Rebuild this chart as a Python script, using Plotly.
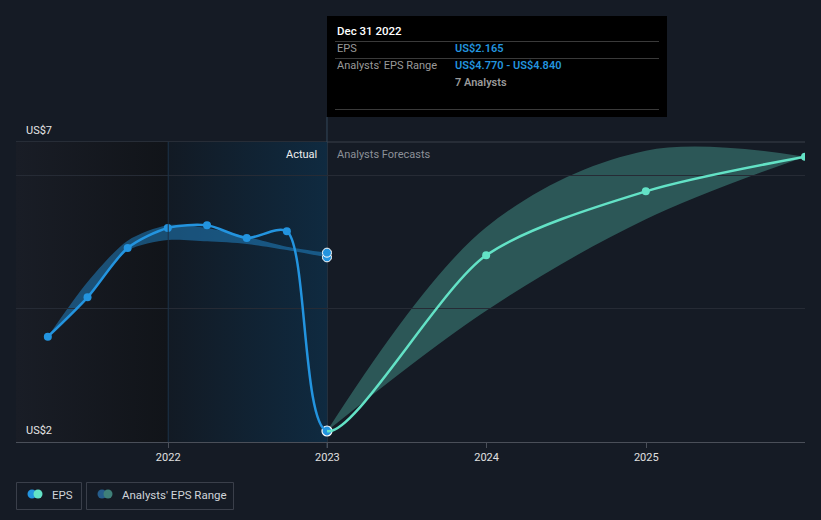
import pandas as pd
import plotly.graph_objects as go

# ---------------- data ----------------
actual_dates = ['2021-03-31', '2021-06-30', '2021-09-30', '2021-12-31',
                '2022-03-31', '2022-06-30', '2022-09-30', '2022-12-31']
actual_eps = [3.58, 4.17, 4.91, 5.21, 5.25, 5.06, 5.16, 2.165]

past_range_low = [3.58, 4.18, 4.87, 5.03, 5.01, 4.97, 4.88, 4.77]
past_range_high = [3.58, 4.40, 5.02, 5.25, 5.21, 5.08, 4.93, 4.84]

forecast_dates = ['2022-12-31', '2023-12-31', '2024-12-31', '2025-12-31']
forecast_eps = [2.165, 4.80, 5.76, 6.28]
forecast_low = [2.165, 3.97, 5.34, 6.28]
forecast_high = [2.165, 5.22, 6.37, 6.28]

hover_date = '2022-12-31'
hover_eps = 2.165
hover_range = [4.770, 4.840]

tick_vals = ['2022-01-01', '2023-01-01', '2024-01-01', '2025-01-01']
tick_text = ['2022', '2023', '2024', '2025']

actual_window = ['2022-01-01', '2022-12-31']
x_range = ['2021-01-17', '2025-12-31']
y_range = [2.0, 6.5]

# ---------------- style ----------------
BG = '#151b25'
BLUE = '#2394df'
TEAL = '#63e2c6'
FONT = 'Roboto'
W, H = 821, 520
L, R, T, B = 16, 805, 142, 442


def px(x):
    return (x - L) / (R - L)


def py(y):
    return (B - y) / (B - T)


# split point (fraction of plot width) between actual and forecast line
t0, t1, ts = (pd.Timestamp(x_range[0]), pd.Timestamp(x_range[1]), pd.Timestamp(hover_date))
split = (ts - t0) / (t1 - t0)

# full EPS series (actual followed by forecast) for one continuous smooth line
all_dates = actual_dates + forecast_dates[1:]
all_eps = actual_eps + forecast_eps[1:]

fig = go.Figure()

# background shading regions
fig.add_trace(go.Scatter(
    x=[x_range[0], actual_window[0], actual_window[0], x_range[0], x_range[0]],
    y=[y_range[0], y_range[0], y_range[1], y_range[1], y_range[0]],
    fill='toself', mode='none', hoverinfo='skip', showlegend=False,
    fillgradient=dict(type='horizontal',
                      colorscale=[[0, '#191d26'], [1, '#111419']])))
fig.add_trace(go.Scatter(
    x=[actual_window[0], actual_window[1], actual_window[1], actual_window[0], actual_window[0]],
    y=[y_range[0], y_range[0], y_range[1], y_range[1], y_range[0]],
    fill='toself', mode='none', hoverinfo='skip', showlegend=False,
    fillgradient=dict(type='horizontal',
                      colorscale=[[0, '#121a24'], [1, '#0f2a40']])))

# past analysts range band
fig.add_trace(go.Scatter(x=actual_dates, y=past_range_low, mode='lines',
                         line=dict(width=0, shape='spline', smoothing=0.8),
                         hoverinfo='skip', showlegend=False))
fig.add_trace(go.Scatter(x=actual_dates, y=past_range_high, mode='lines',
                         line=dict(width=0, shape='spline', smoothing=0.8),
                         fill='tonexty', fillcolor='rgba(35,148,223,0.45)',
                         hoverinfo='skip', showlegend=False))

# forecast range band
fig.add_trace(go.Scatter(x=forecast_dates, y=forecast_low, mode='lines',
                         line=dict(width=0, shape='spline', smoothing=1),
                         hoverinfo='skip', showlegend=False))
fig.add_trace(go.Scatter(x=forecast_dates, y=forecast_high, mode='lines',
                         line=dict(width=0, shape='spline', smoothing=1),
                         fill='tonexty', fillcolor='rgba(94,214,192,0.32)',
                         hoverinfo='skip', showlegend=False))

# EPS line: same smooth curve drawn on two clipped sub-axes (blue actual / teal forecast)
fig.add_trace(go.Scatter(x=all_dates, y=all_eps, mode='lines', xaxis='x2',
                         line=dict(color=BLUE, width=2.5, shape='spline', smoothing=0.8),
                         hoverinfo='skip', showlegend=False))
fig.add_trace(go.Scatter(x=all_dates, y=all_eps, mode='lines', xaxis='x3',
                         line=dict(color=TEAL, width=2.5, shape='spline', smoothing=0.8),
                         hoverinfo='skip', showlegend=False))

# markers
fig.add_trace(go.Scatter(x=actual_dates[:-1], y=actual_eps[:-1], mode='markers',
                         marker=dict(color=BLUE, size=8),
                         hoverinfo='skip', showlegend=False))
fig.add_trace(go.Scatter(x=forecast_dates[1:], y=forecast_eps[1:], mode='markers',
                         marker=dict(color=TEAL, size=8),
                         hoverinfo='skip', showlegend=False))

# highlighted hover markers
fig.add_trace(go.Scatter(x=[hover_date, hover_date], y=hover_range, mode='markers',
                         marker=dict(color=BLUE, size=9, line=dict(color='white', width=1)),
                         hoverinfo='skip', showlegend=False))
fig.add_trace(go.Scatter(x=[hover_date], y=[hover_eps], mode='markers',
                         marker=dict(color=BLUE, size=10, line=dict(color='white', width=1.2)),
                         cliponaxis=False, hoverinfo='skip', showlegend=False))

shapes = []
# top border line
shapes.append(dict(type='line', xref='paper', yref='paper', x0=0, x1=1, y0=1, y1=1,
                   line=dict(color='#3b404a', width=1), layer='below'))
# boundary line at start of actual window
shapes.append(dict(type='line', xref='x', yref='paper', x0=actual_window[0], x1=actual_window[0],
                   y0=0, y1=1, line=dict(color='#1c3248', width=1)))
# hover crosshair
shapes.append(dict(type='line', xref='x', yref='paper', x0=hover_date, x1=hover_date,
                   y0=py(448), y1=py(117), line=dict(color='#34485c', width=1), layer='below'))
# tooltip box
shapes.append(dict(type='rect', xref='paper', yref='paper', x0=px(327), x1=px(667),
                   y0=py(117), y1=py(16), fillcolor='#000000', line=dict(width=0)))
for yy in (41.5, 58.5, 109.5):
    shapes.append(dict(type='line', xref='paper', yref='paper', x0=px(335), x1=px(659),
                       y0=py(yy), y1=py(yy), line=dict(color='#3a3a3a', width=1)))
# legend boxes
for x0, x1 in ((16.5, 81.5), (86.5, 233.5)):
    shapes.append(dict(type='rect', xref='paper', yref='paper', x0=px(x0), x1=px(x1),
                       y0=py(509.5), y1=py(482.5), line=dict(color='#3a3f4a', width=1),
                       fillcolor='rgba(0,0,0,0)'))


def circle(cx, cy, r, color):
    return dict(type='circle', xref='paper', yref='paper', x0=px(cx - r), x1=px(cx + r),
                y0=py(cy + r), y1=py(cy - r), fillcolor=color, line=dict(width=0))


shapes += [circle(32, 494, 4.5, BLUE), circle(38, 494, 4.5, TEAL),
           circle(102, 494, 4.5, '#265d8c'), circle(108, 494, 4.5, '#3f8079')]

annotations = []


def text(x, y, s, color, size=11, anchor='left', weight=400):
    annotations.append(dict(xref='paper', yref='paper', x=px(x), y=py(y), text=s,
                            showarrow=False, xanchor=anchor, yanchor='middle',
                            font=dict(family=FONT, size=size, color=color, weight=weight)))


text(24, 130, 'US$7', '#e6e6e6', 11)
text(24, 430, 'US$2', '#e6e6e6', 11)
text(319, 154, 'Actual', '#eeeeee', 11, anchor='right')
text(335, 154, 'Analysts Forecasts', '#8c9098', 11)
# tooltip
text(335, 31, 'Dec 31 2022', '#ffffff', 11.5, weight=500)
text(335, 49, 'EPS', '#9a9a9a', 11)
text(453, 49, 'US$2.165', BLUE, 11, weight=600)
text(335, 66, "Analysts' EPS Range", '#9a9a9a', 11)
text(453, 66, 'US$4.770 - US$4.840', BLUE, 11, weight=600)
text(453, 83, '7 Analysts', '#9a9a9a', 11, weight=600)
# legend
text(50, 495, 'EPS', '#d0d4d9', 11.5)
text(120, 495, "Analysts' EPS Range", '#d0d4d9', 11.5)

hidden = dict(visible=False, fixedrange=True, type='date', anchor='y')
fig.update_layout(
    width=W, height=H,
    paper_bgcolor=BG, plot_bgcolor='rgba(0,0,0,0)',
    margin=dict(l=L, r=W - R, t=T, b=H - B),
    font=dict(family=FONT, color='#dddddd', size=11),
    showlegend=False, hovermode=False,
    shapes=shapes, annotations=annotations,
    xaxis=dict(type='date', range=x_range, showgrid=False, zeroline=False,
               tickvals=tick_vals, ticktext=tick_text, ticks='outside', ticklen=5,
               tickcolor='#4a4f59', showline=True, linecolor='#4a4f59', linewidth=1,
               tickfont=dict(family=FONT, size=11, color='#e0e0e0'), fixedrange=True),
    xaxis2=dict(hidden, domain=[0, split], range=[x_range[0], hover_date]),
    xaxis3=dict(hidden, domain=[split, 1], range=[hover_date, x_range[1]]),
    yaxis=dict(range=y_range, showgrid=True, gridcolor='#262b35', gridwidth=1,
               tickvals=[4, 6], showticklabels=False, zeroline=False, fixedrange=True),
)

fig.write_html('out.html',
               config={'displayModeBar': False, 'staticPlot': True},
               post_script="document.body.style.margin='0';"
                           "document.body.style.background='#151b25';")
